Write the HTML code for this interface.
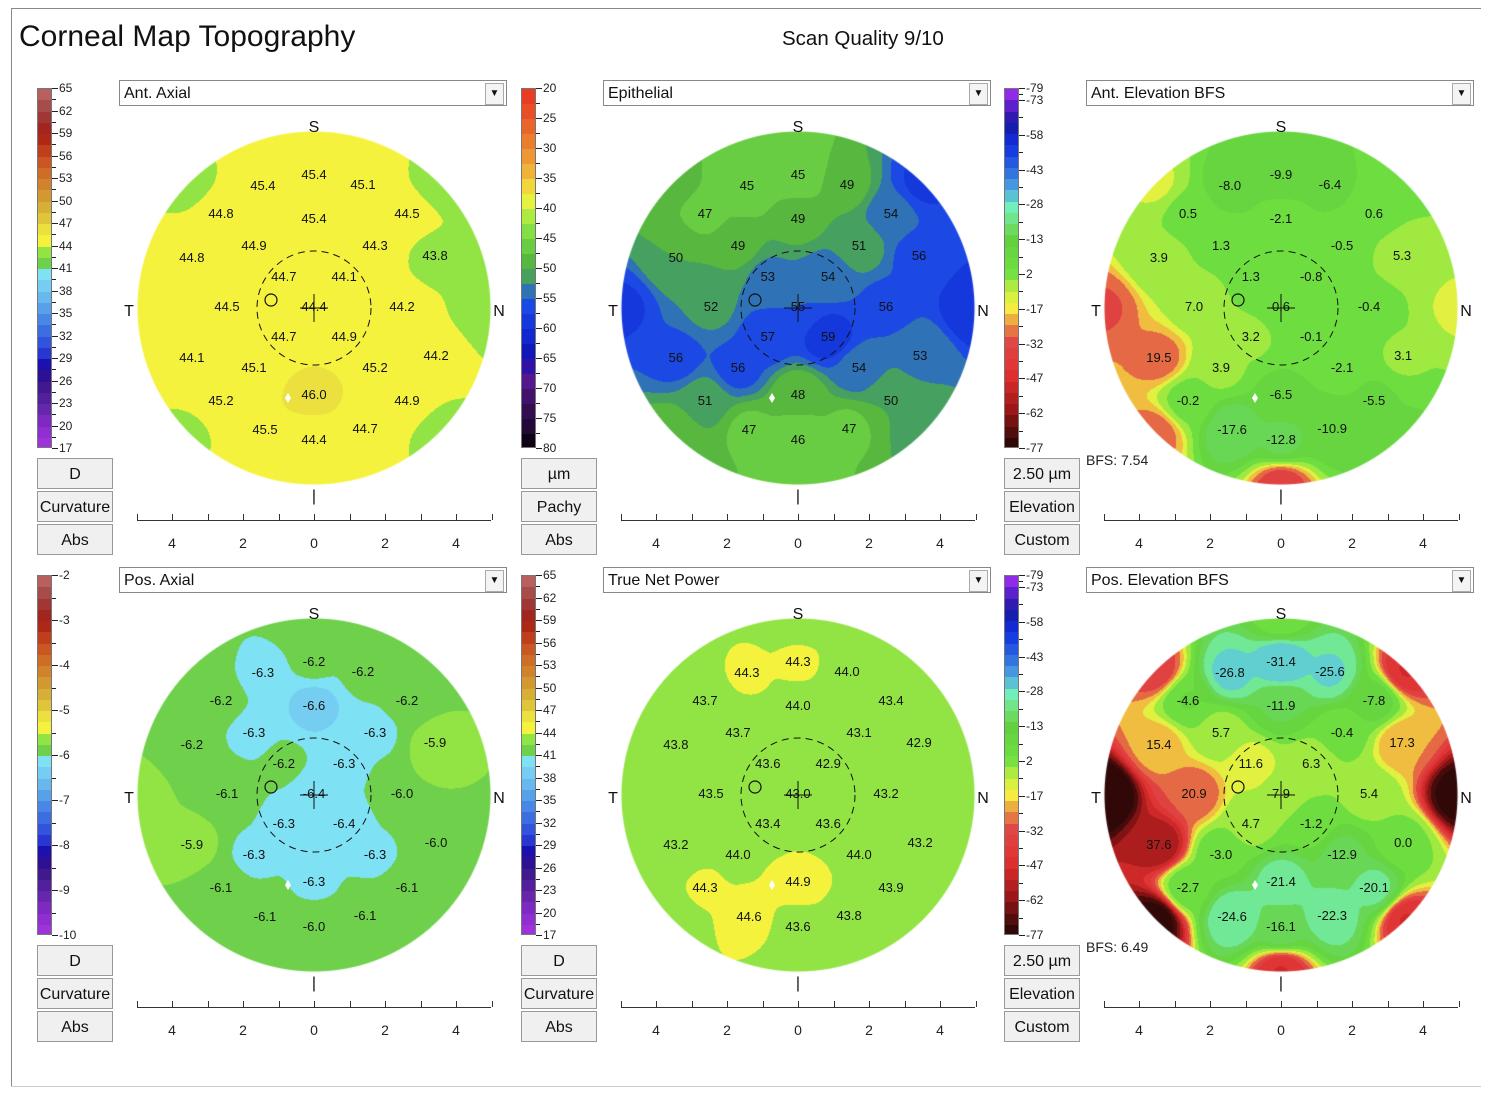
<!DOCTYPE html>
<html><head><meta charset="utf-8"><style>
body{margin:0;background:#fff;font-family:"Liberation Sans",sans-serif;}
#root{position:relative;width:1500px;height:1102px;overflow:hidden;background:#fff;}
.abs{position:absolute;}
.btn{position:absolute;width:76px;height:31px;border:1px solid #999;background:#f0f0f0;font-size:16px;text-align:center;line-height:31px;color:#111;box-sizing:border-box;}
.dd{position:absolute;height:26px;border:1px solid #888;background:#fff;font-size:16px;line-height:26px;padding-left:4px;box-sizing:border-box;color:#111;}
.dd .arr{position:absolute;right:2px;top:2px;width:17px;height:20px;border:1px solid #aaa;background:#f4f4f4;font-size:10px;text-align:center;line-height:20px;}
.cl{position:absolute;font-size:12px;color:#222;}
</style></head><body>
<div id="root">
<div class="abs" style="left:11px;top:8px;width:1470px;height:1px;background:#888"></div>
<div class="abs" style="left:11px;top:8px;width:1px;height:1078px;background:#888"></div>
<div class="abs" style="left:11px;top:1086px;width:1470px;height:1px;background:#ccc"></div>
<div class="abs" style="left:19px;top:20px;font-size:30px;color:#111">Corneal Map Topography</div>
<div class="abs" style="left:782px;top:27px;font-size:20.5px;color:#111">Scan Quality 9/10</div>
</div>
<script>
// measurement grid positions (mm) shared by all maps
const gridX=[-1.44,0,1.38,-2.62,0,2.62,-3.44,-1.69,1.72,3.41,-0.85,0.85,-2.45,0,2.48,-0.85,0.85,-3.44,-1.69,1.72,3.44,-2.62,0,2.62,-1.38,0,1.44];
const gridY=[-3.44,-3.75,-3.46,-2.65,-2.51,-2.65,-1.41,-1.75,-1.75,-1.46,-0.87,-0.87,-0.03,-0.03,-0.03,0.82,0.82,1.41,1.69,1.69,1.35,2.62,2.45,2.62,3.44,3.72,3.41];
const rimAngles=[0,45,90,135,180,225,270,315];
// values per map
const antAxial=[45.4,45.4,45.1,44.8,45.4,44.5,44.8,44.9,44.3,43.8,44.7,44.1,44.5,44.4,44.2,44.7,44.9,44.1,45.1,45.2,44.2,45.2,46.0,44.9,45.5,44.4,44.7];
const antAxialRim=[44.5,43.5,43.5,43.5,44.5,43.8,44.3,43.5];
const epithelial=[45,45,49,47,49,54,50,49,51,56,53,54,52,55,56,57,59,56,56,54,53,51,48,50,47,46,47];
const epithelialRim=[47,58,60,51,46,48,58,48];
const antElev=[-8.0,-9.9,-6.4,0.5,-2.1,0.6,3.9,1.3,-0.5,5.3,1.3,-0.8,7.0,0.6,-0.4,3.2,-0.1,19.5,3.9,-2.1,3.1,-0.2,-6.5,-5.5,-17.6,-12.8,-10.9];
const antElevRim=[-9,2,10,-5,25,20,22,10];
const posAxial=[-6.3,-6.2,-6.2,-6.2,-6.6,-6.2,-6.2,-6.3,-6.3,-5.9,-6.2,-6.3,-6.1,-6.4,-6.0,-6.3,-6.4,-5.9,-6.3,-6.3,-6.0,-6.1,-6.3,-6.1,-6.1,-6.0,-6.1];
const posAxialRim=[-6.0,-6.0,-6.0,-6.0,-6.0,-6.0,-5.9,-6.0];
const trueNet=[44.3,44.3,44.0,43.7,44.0,43.4,43.8,43.7,43.1,42.9,43.6,42.9,43.5,43.0,43.2,43.4,43.6,43.2,44.0,44.0,43.2,44.3,44.9,43.9,44.6,43.6,43.8];
const trueNetRim=[43.5,43.3,43.0,43.3,43.5,43.5,43.3,43.5];
const posElev=[-26.8,-31.4,-25.6,-4.6,-11.9,-7.8,15.4,5.7,-0.4,17.3,11.6,6.3,20.9,7.9,5.4,4.7,-1.2,37.6,-3.0,-12.9,0.0,-2.7,-21.4,-20.1,-24.6,-16.1,-22.3];
const posElevRim=[0,30,50,30,30,50,55,25];
// colour scales
const axialStops=[[17,'#a434e0'],[20,'#8a2ccc'],[23,'#5a24a4'],[26,'#3a1488'],[28,'#1a0aa8'],[30,'#2a3cd8'],[32.5,'#3a6ae0'],[35,'#5094e8'],[38,'#70c4f0'],[40.5,'#80e4f4'],[41,'#62c850'],[42.5,'#7cd848'],[44,'#a8ee40'],[44.01,'#f6f43c'],[45.5,'#f4f040'],[47,'#e2d03c'],[50,'#d4a434'],[53,'#d07828'],[56,'#c84a1e'],[59,'#a41c14'],[62,'#a04040'],[65,'#c06a6a']];
const pachyStops=[[20,'#e83420'],[25,'#e85828'],[30,'#ec8a30'],[35,'#f0c040'],[38,'#f8f43c'],[40,'#c4f040'],[45,'#70d844'],[50,'#4eac3c'],[52.5,'#3e9484'],[55,'#2050e8'],[60,'#1030d8'],[65,'#1010b0'],[68,'#5a1898'],[72,'#3c1060'],[77,'#1e0830'],[80,'#000000']];
const elevStops=[[-79,'#a030f0'],[-73,'#6020d0'],[-65,'#1818a0'],[-55,'#1030e0'],[-43,'#3070e0'],[-35,'#50a8e0'],[-28,'#70f0c0'],[-20,'#70e070'],[-13,'#62d040'],[2,'#70e040'],[10,'#c8f040'],[17,'#f8f040'],[25,'#e89040'],[32,'#e04848'],[47,'#e03030'],[62,'#a01818'],[77,'#300808']];
const axialTicks=['65','62','59','56','53','50','47','44','41','38','35','32','29','26','23','20','17'];
const pachyTicks=['20','25','30','35','40','45','50','55','60','65','70','75','80'];
const elevTicks=['-79','-73','-58','-43','-28','-13','2','-17','-32','-47','-62','-77'];
const posAxTicks=['-2','-3','-4','-5','-6','-7','-8','-9','-10'];
const axisTicks=['4','2','0','2','4'];

const root=document.getElementById('root');
const PX=35.5;
function hex(c){return [parseInt(c.substr(1,2),16),parseInt(c.substr(3,2),16),parseInt(c.substr(5,2),16)];}
function cmap(stops,v){
  if(v<=stops[0][0])return hex(stops[0][1]);
  for(let i=1;i<stops.length;i++){if(v<=stops[i][0]){const a=stops[i-1],b=stops[i];const t=(v-a[0])/(b[0]-a[0]);const ca=hex(a[1]),cb=hex(b[1]);return ca.map((x,k)=>Math.round(x+(cb[k]-x)*t));}}
  return hex(stops[stops.length-1][1]);
}
function el(tag,cls,name,inter,css,txt){const e=document.createElement(tag);if(cls)e.className=cls;


if(css)e.style.cssText=css;if(txt!==undefined)e.textContent=txt;root.appendChild(e);return e;}

function colorbar(x0,y0,stops,lo,hi,ticks,tickVals,step,key){
  const H=360;
  const bar=el('div','abs',key+'-colorbar','false','left:'+x0+'px;top:'+y0+'px;width:15px;height:'+H+'px;border:1px solid #777;box-sizing:border-box;overflow:hidden');
  const n=Math.round((hi-lo)/step);
  for(let i=0;i<n;i++){const v=hi-(i+0.5)*step;const c=cmap(stops,v);
    const b=document.createElement('div');
    
    
    b.style.cssText='position:absolute;left:0;width:15px;top:'+(i*H/n)+'px;height:'+(H/n+1)+'px;background:rgb('+c.join(',')+')';bar.appendChild(b);}
  for(let i=0;i<ticks.length;i++){const y=y0+tickVals[i];
    el('div','abs','colorbar-tick','false','left:'+(x0+15)+'px;top:'+y+'px;width:6px;height:1px;background:#222');
    el('div','cl','colorbar-tick-label','false','left:'+(x0+22)+'px;top:'+(y-7)+'px',ticks[i]);
    if(i<ticks.length-1){const ym=y0+(tickVals[i]+tickVals[i+1])/2;el('div','abs','colorbar-minor-tick','false','left:'+(x0+15)+'px;top:'+ym+'px;width:4px;height:1px;background:#222');}
  }
}
function evenTicks(n){const a=[];for(let i=0;i<n;i++)a.push(i*360/(n-1));return a;}
function elevTickPos(){const a=[0];for(let i=1;i<12;i++)a.push(12+(i-1)*34.8);return a;}

function panel(ox,oy,key,title,vals,rim,stops,mapf,step,base,buttons,cb,bfs){
  const cx=ox+314,cy=oy+308;
  const dd=el('div','dd',key+'-dropdown','true','left:'+(ox+119)+'px;top:'+(oy+80)+'px;width:388px',title);
  const ar=document.createElement('div');ar.className='arr';
  
  
  ar.textContent='▼';dd.appendChild(ar);
  buttons.forEach((t,i)=>{el('div','btn',key+'-'+t.toLowerCase().replace(/[^a-z0-9]+/g,'-')+'-button','true','left:'+(ox+37)+'px;top:'+(oy+458+i*33)+'px',t);});
  cb();
  const R=177,S=2*R+6;
  const cv=el('canvas','abs',key+'-map','false','left:'+(cx-S/2)+'px;top:'+(cy-S/2)+'px');
  cv.width=S;cv.height=S;const ctx=cv.getContext('2d');const img=ctx.createImageData(S,S);
  const px=[],py=[],pv=[];
  for(let i=0;i<vals.length;i++){px.push(gridX[i]*PX);py.push(gridY[i]*PX);pv.push(vals[i]);}
  for(let i=0;i<rim.length;i++){const a=rimAngles[i]*Math.PI/180;px.push(Math.sin(a)*178);py.push(-Math.cos(a)*178);pv.push(rim[i]);}
  for(let j=0;j<S;j++)for(let i=0;i<S;i++){
    const x=i-S/2+0.5,y=j-S/2+0.5;const r=Math.hypot(x,y);if(r>R)continue;
    let sw=0,sv=0,hit=null;
    for(let k=0;k<px.length;k++){const d2=(x-px[k])**2+(y-py[k])**2;if(d2<1){hit=pv[k];break;}const w=1/(d2*d2);sw+=w;sv+=w*pv[k];}
    let v=hit!==null?hit:sv/sw;let m=mapf(v);m=base+Math.floor((m-base)/step)*step+step/2;
    const c=cmap(stops,m);const o=(j*S+i)*4;img.data[o]=c[0];img.data[o+1]=c[1];img.data[o+2]=c[2];img.data[o+3]=r>R-1?Math.round(255*(R-r)):255;}
  ctx.putImageData(img,0,0);
  const ns='http://www.w3.org/2000/svg';
  const svg=document.createElementNS(ns,'svg');svg.setAttribute('width',400);svg.setAttribute('height',400);
  
  
  svg.style.cssText='position:absolute;left:'+(cx-200)+'px;top:'+(cy-200)+'px;overflow:visible';root.appendChild(svg);
  function s(tag,attrs,name){const e=document.createElementNS(ns,tag);for(const k in attrs)e.setAttribute(k,attrs[k]);
    
    
    svg.appendChild(e);return e;}
  s('circle',{cx:200,cy:200,r:57,fill:'none',stroke:'#111','stroke-width':1,'stroke-dasharray':'7,5'},'optical-zone-circle');
  s('circle',{cx:157,cy:192,r:6,fill:'none',stroke:'#111','stroke-width':1.2},'pupil-center-marker');
  s('path',{d:'M200,186 V214 M186,200 H214',stroke:'#111','stroke-width':1},'center-crosshair');
  s('path',{d:'M174,285 l3,5 l-3,5 l-3,-5z',fill:'#fff'},'apex-marker');
  for(let i=0;i<vals.length;i++){
    const t=s('text',{x:200+gridX[i]*PX,y:200+gridY[i]*PX+4,'text-anchor':'middle','font-size':13,'font-family':'Liberation Sans, sans-serif',fill:'#111'},'map-value');
    t.textContent=vals[i].toFixed(key.indexOf('epi')>=0?0:1);}
  [['S',0,-176],['I',0,193],['T',-185,8],['N',185,8]].forEach(a=>{
    const t=s('text',{x:200+a[1],y:200+a[2],'text-anchor':'middle','font-size':16,'font-family':'Liberation Sans, sans-serif',fill:'#111'},'compass-'+a[0].toLowerCase());
    t.textContent=a[0]=='I'?'|':a[0];});
  el('div','abs',key+'-x-axis','false','left:'+(ox+137)+'px;top:'+(oy+520)+'px;width:354px;height:1px;background:#333');
  for(let k=-5;k<=5;k++){el('div','abs','x-axis-tick','false','left:'+(cx+k*PX)+'px;top:'+(oy+520-6)+'px;width:1px;height:6px;background:#333');}
  axisTicks.forEach((t,i)=>{const mm=(i-2)*2;el('div','abs','x-axis-label','false','left:'+(cx+mm*PX-10)+'px;top:'+(oy+535)+'px;width:20px;text-align:center;font-size:14px;color:#222',t);});
  if(bfs)el('div','abs',key+'-bfs','false','left:'+(ox+119)+'px;top:'+(oy+452)+'px;font-size:14px;color:#222',bfs);
}
const cols=[0,484,967],rows=[0,487];
const id=v=>v;
const elevMap=v=>v<0?v*1.1:(v<8?v:8+(v-8)*1.8);
panel(cols[0],rows[0],'ant-axial','Ant. Axial',antAxial,antAxialRim,axialStops,id,1.5,17,['D','Curvature','Abs'],()=>colorbar(37,88,axialStops,17,65,axialTicks,evenTicks(17),1.5,'ant-axial'));
panel(cols[1],rows[0],'epithelial','Epithelial',epithelial,epithelialRim,pachyStops,id,2.5,20,['µm','Pachy','Abs'],()=>colorbar(521,88,pachyStops.map(s=>[100-s[0],s[1]]).reverse(),20,80,pachyTicks,evenTicks(13),2.5,'epithelial'));
panel(cols[2],rows[0],'ant-elevation','Ant. Elevation BFS',antElev,antElevRim,elevStops,elevMap,7.5,-80,['2.50 µm','Elevation','Custom'],()=>colorbar(1004,88,elevStops.map(s=>[-s[0],s[1]]).reverse(),-80,80,elevTicks,elevTickPos(),5,'ant-elevation'),'BFS: 7.54');
panel(cols[0],rows[1],'pos-axial','Pos. Axial',posAxial,posAxialRim,axialStops,v=>41+(v+6.25)*6,1.5,17,['D','Curvature','Abs'],()=>colorbar(37,575,axialStops,17,65,posAxTicks,evenTicks(9),1.5,'pos-axial'));
panel(cols[1],rows[1],'true-net-power','True Net Power',trueNet,trueNetRim,axialStops,v=>v-0.2,1.5,17,['D','Curvature','Abs'],()=>colorbar(521,575,axialStops,17,65,axialTicks,evenTicks(17),1.5,'true-net-power'));
panel(cols[2],rows[1],'pos-elevation','Pos. Elevation BFS',posElev,posElevRim,elevStops,elevMap,7.5,-80,['2.50 µm','Elevation','Custom'],()=>colorbar(1004,575,elevStops.map(s=>[-s[0],s[1]]).reverse(),-80,80,elevTicks,elevTickPos(),5,'pos-elevation'),'BFS: 6.49');
</script>
</body></html>
